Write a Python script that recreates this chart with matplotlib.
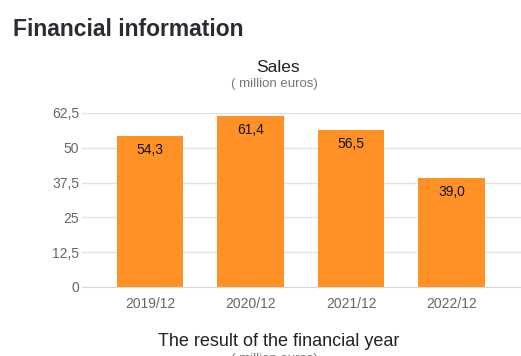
import matplotlib.pyplot as plt
from matplotlib.ticker import FixedLocator

plt.rcParams['font.family'] = ['Liberation Sans', 'DejaVu Sans']

# Sales per financial year (million euros)
years = ['2019/12', '2020/12', '2021/12', '2022/12']
sales = [54.3, 61.4, 56.5, 39.0]
yticks = [0, 12.5, 25, 37.5, 50, 62.5]
ytickLabels = ['0', '12,5', '25', '37,5', '50', '62,5']

W, H = 521, 356
fig = plt.figure(figsize=(W / 100, H / 100), dpi=100)

# axes placed in pixel coords of the reference
left, right, top, bottom = 82, 521, 113, 287
ax = fig.add_axes([left / W, 1 - bottom / H, (right - left) / W, (bottom - top) / H])

x = range(len(years))
ax.bar(x, sales, width=0.66, color='#ff9126', zorder=2)
for i, v in enumerate(sales):
    ax.annotate(f'{v:.1f}'.replace('.', ','), (i, v), xytext=(0, -14), textcoords='offset pixels',
                ha='center', va='center', fontsize=10, color='#111111')

ax.set_ylim(0, 62.5)
ax.set_xlim(-0.677, 3.69)
ax.yaxis.set_major_locator(FixedLocator(yticks))
ax.set_yticklabels(ytickLabels)
ax.set_xticks(list(x), years)
ax.grid(axis='y', color='#e3e3e3', linewidth=1, zorder=0)
ax.tick_params(length=0, labelsize=10, labelcolor='#666666', pad=2)
ax.tick_params(axis='x', pad=7)
for s in ['top', 'right', 'left']:
    ax.spines[s].set_visible(False)
ax.spines['bottom'].set_color('#d8d8d8')

# titles
fig.text(13 / W, 1 - 30 / H, 'Financial information', fontsize=16.5, fontweight='bold', color='#2b2b33',
         ha='left', va='center')
fig.text(278 / W, 1 - 67 / H, 'Sales', fontsize=12.5, color='#222222', ha='center', va='center')
fig.text(274 / W, 1 - 84 / H, '( million euros)', fontsize=9.5, color='#777777', ha='center', va='center')
fig.text(279 / W, 1 - 341 / H, 'The result of the financial year', fontsize=13, color='#222222',
         ha='center', va='center')
fig.text(274 / W, 1 - 359 / H, '( million euros)', fontsize=9.5, color='#777777', ha='center', va='center')

fig.savefig('out.png', dpi=100)
